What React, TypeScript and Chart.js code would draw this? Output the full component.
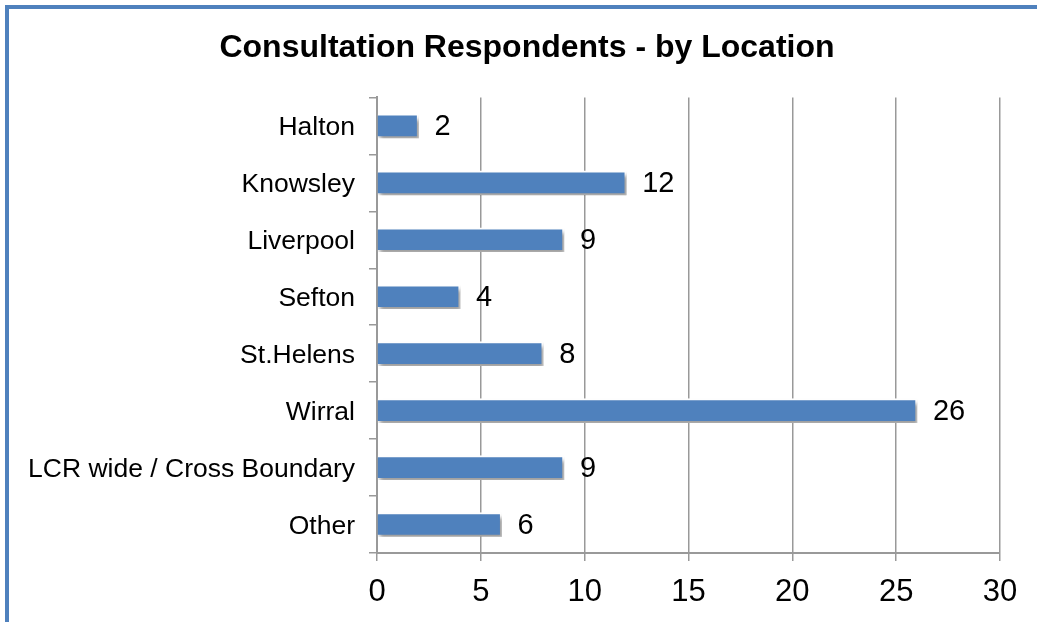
import React, { useEffect, useRef } from "react";
import { Chart, registerables } from "chart.js";

Chart.register(...registerables);

const chartTitle = "Consultation Respondents - by Location";
const categories = [
  "Halton",
  "Knowsley",
  "Liverpool",
  "Sefton",
  "St.Helens",
  "Wirral",
  "LCR wide / Cross Boundary",
  "Other",
];
const respondents = [2, 12, 9, 4, 8, 26, 9, 6];
const xMin = 0;
const xMax = 30;
const xStep = 5;

const FONT = "'Liberation Sans', Arial, Helvetica, sans-serif";
const BAR = "#4F81BD";
const GRID = "#999999";

export default function App() {
  const ref = useRef<HTMLCanvasElement>(null);

  useEffect(() => {
    if (!ref.current) return;

    const shadowAndLabels = {
      id: "shadowAndLabels",
      beforeDatasetsDraw(chart: any) {
        const ctx = chart.ctx;
        ctx.save();
        ctx.shadowColor = "rgba(0,0,0,0.38)";
        ctx.shadowBlur = 4;
        ctx.shadowOffsetX = 3;
        ctx.shadowOffsetY = 4;
      },
      afterDatasetsDraw(chart: any) {
        const ctx = chart.ctx;
        ctx.restore();
        const meta = chart.getDatasetMeta(0);
        const data = chart.data.datasets[0].data as number[];
        ctx.save();
        ctx.font = `29px ${FONT}`;
        ctx.fillStyle = "#000";
        ctx.textAlign = "left";
        ctx.textBaseline = "middle";
        meta.data.forEach((bar: any, i: number) => {
          ctx.fillText(String(data[i]), bar.x + 16, bar.y + 1);
        });
        ctx.restore();
      },
    };

    const chart = new Chart(ref.current, {
      type: "bar",
      data: {
        labels: categories,
        datasets: [
          {
            data: respondents,
            backgroundColor: BAR,
            borderColor: "#ffffff",
            borderWidth: 2,
            barThickness: 24,
          },
        ],
      },
      options: {
        indexAxis: "y",
        responsive: false,
        animation: false,
        devicePixelRatio: 1,
        layout: { padding: { left: 17, right: 0, top: 0, bottom: 0 } },
        plugins: {
          legend: { display: false },
          tooltip: { enabled: false },
          title: {
            display: true,
            text: chartTitle,
            color: "#000",
            font: { family: FONT, size: 32, weight: "bold" },
            padding: { top: 29, bottom: 30 },
          },
        },
        scales: {
          x: {
            min: xMin,
            max: xMax,
            ticks: {
              stepSize: xStep,
              color: "#000",
              font: { family: FONT, size: 31 },
              padding: 13,
              maxRotation: 0,
            },
            grid: {
              color: GRID,
              lineWidth: 1.5,
              tickLength: 8,
              drawTicks: true,
            },
            border: { color: GRID, width: 2 },
            afterFit(scale: any) {
              scale.height = 69;
              scale.paddingRight = 37;
            },
          },
          y: {
            ticks: {
              color: "#000",
              font: { family: FONT, size: 26.5 },
              padding: 14,
              labelOffset: 2,
            },
            grid: {
              drawOnChartArea: false,
              drawTicks: true,
              tickLength: 8,
              color: GRID,
              lineWidth: 1.5,
            },
            border: { color: GRID, width: 2 },
            afterFit(scale: any) {
              scale.width = 360;
            },
          },
        },
      },
      plugins: [shadowAndLabels],
    });

    return () => chart.destroy();
  }, []);

  return (
    <div
      style={{
        position: "fixed",
        left: 0,
        top: 0,
        width: 1037,
        height: 622,
        background: "#ffffff",
        overflow: "hidden",
      }}
    >
      <canvas ref={ref} width={1037} height={622} style={{ display: "block" }} />
      <div
        style={{
          position: "absolute",
          left: 5,
          top: 5,
          right: -10,
          bottom: -10,
          borderTop: `4px solid ${BAR}`,
          borderLeft: `4px solid ${BAR}`,
          pointerEvents: "none",
        }}
      />
    </div>
  );
}
